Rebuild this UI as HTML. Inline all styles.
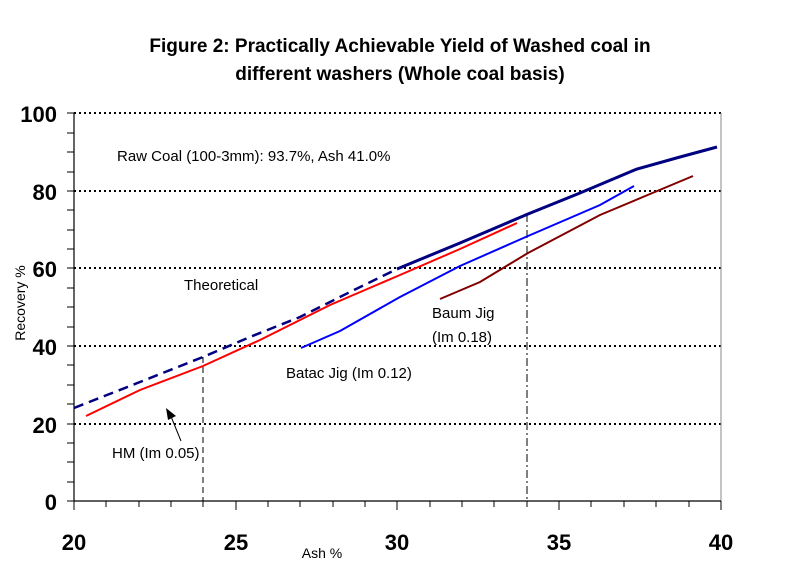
<!DOCTYPE html>
<html><head><style>body{margin:0;background:#fff}svg{display:block}text{font-family:"Liberation Sans",Arial,sans-serif}</style></head><body>
<svg width="812" height="572" viewBox="0 0 812 572">
<text x="400" y="52" font-size="19" font-weight="bold" text-anchor="middle">Figure 2: Practically Achievable Yield of Washed coal in</text>
<text x="400" y="80" font-size="19" font-weight="bold" text-anchor="middle">different washers (Whole coal basis)</text>
<g stroke="#000" stroke-width="2" stroke-dasharray="2,3">
<line x1="74" y1="113" x2="721" y2="113"/><line x1="74" y1="191" x2="721" y2="191"/><line x1="74" y1="268" x2="721" y2="268"/><line x1="74" y1="346" x2="721" y2="346"/><line x1="74" y1="424" x2="721" y2="424"/>
</g>
<line x1="721" y1="113" x2="721" y2="501" stroke="#888" stroke-width="1"/>
<line x1="74" y1="113" x2="74" y2="501" stroke="#000" stroke-width="1.2"/>
<line x1="74" y1="501" x2="721" y2="501" stroke="#000" stroke-width="1.2"/>
<g stroke="#000" stroke-width="1">
<path d="M67 113H74M67 133H74M67 152H74M67 172H74M67 191H74M67 210H74M67 230H74M67 249H74M67 268H74M67 288H74M67 307H74M67 327H74M67 346H74M67 365H74M67 385H74M67 404H74M67 424H74M67 443H74M67 462H74M67 482H74M67 501H74"/>
<path d="M74 501V510M106 501V507M139 501V507M171 501V507M203 501V507M236 501V510M268 501V507M300 501V507M333 501V507M365 501V507M397 501V510M430 501V507M462 501V507M494 501V507M527 501V507M559 501V510M591 501V507M624 501V507M656 501V507M689 501V507M721 501V510"/>
</g>
<line x1="203" y1="357" x2="203" y2="501" stroke="#000" stroke-dasharray="6,4"/>
<line x1="527" y1="214" x2="527" y2="501" stroke="#000" stroke-dasharray="8,3,2,3"/>
<polyline points="440,299 480,282 528,253 600,215 693,176" fill="none" stroke="#800000" stroke-width="2"/>
<polyline points="301,348 340,331 400,297 460,266 528,236 600,205 634,186" fill="none" stroke="#0000ff" stroke-width="2"/>
<polyline points="86,416 140,390 203,366 260,340 330,305 400,275 460,249 517,223" fill="none" stroke="#ff0000" stroke-width="2"/>
<polyline points="74,408 140,382 203,357 250,337 300,317 350,292 397,269" fill="none" stroke="#000080" stroke-width="2.5" stroke-dasharray="10,6"/>
<polyline points="397,269 460,243 528,214 580,193 637,169 680,157 717,147" fill="none" stroke="#000080" stroke-width="3"/>
<g font-size="22" font-weight="bold" text-anchor="end">
<text x="57" y="122">100</text><text x="57" y="200">80</text><text x="57" y="277">60</text><text x="57" y="355">40</text><text x="57" y="433">20</text><text x="57" y="510">0</text>
</g>
<g font-size="22" font-weight="bold" text-anchor="middle">
<text x="74" y="550">20</text><text x="236" y="550">25</text><text x="397" y="550">30</text><text x="559" y="550">35</text><text x="721" y="550">40</text>
</g>
<text x="322" y="558" font-size="14" text-anchor="middle">Ash %</text>
<text transform="translate(25,303) rotate(-90)" font-size="14" text-anchor="middle">Recovery %</text>
<g font-size="15">
<text x="117" y="161">Raw Coal (100-3mm): 93.7%, Ash 41.0%</text>
<text x="184" y="290">Theoretical</text>
<text x="286" y="378">Batac Jig (Im 0.12)</text>
<text x="432" y="318">Baum Jig</text>
<text x="432" y="342">(Im 0.18)</text>
<text x="112" y="458">HM (Im 0.05)</text>
</g>
<line x1="181" y1="441" x2="170" y2="414" stroke="#000" stroke-width="1"/>
<polygon points="166,408 176,416 168,420" fill="#000"/>
</svg>
</body></html>
